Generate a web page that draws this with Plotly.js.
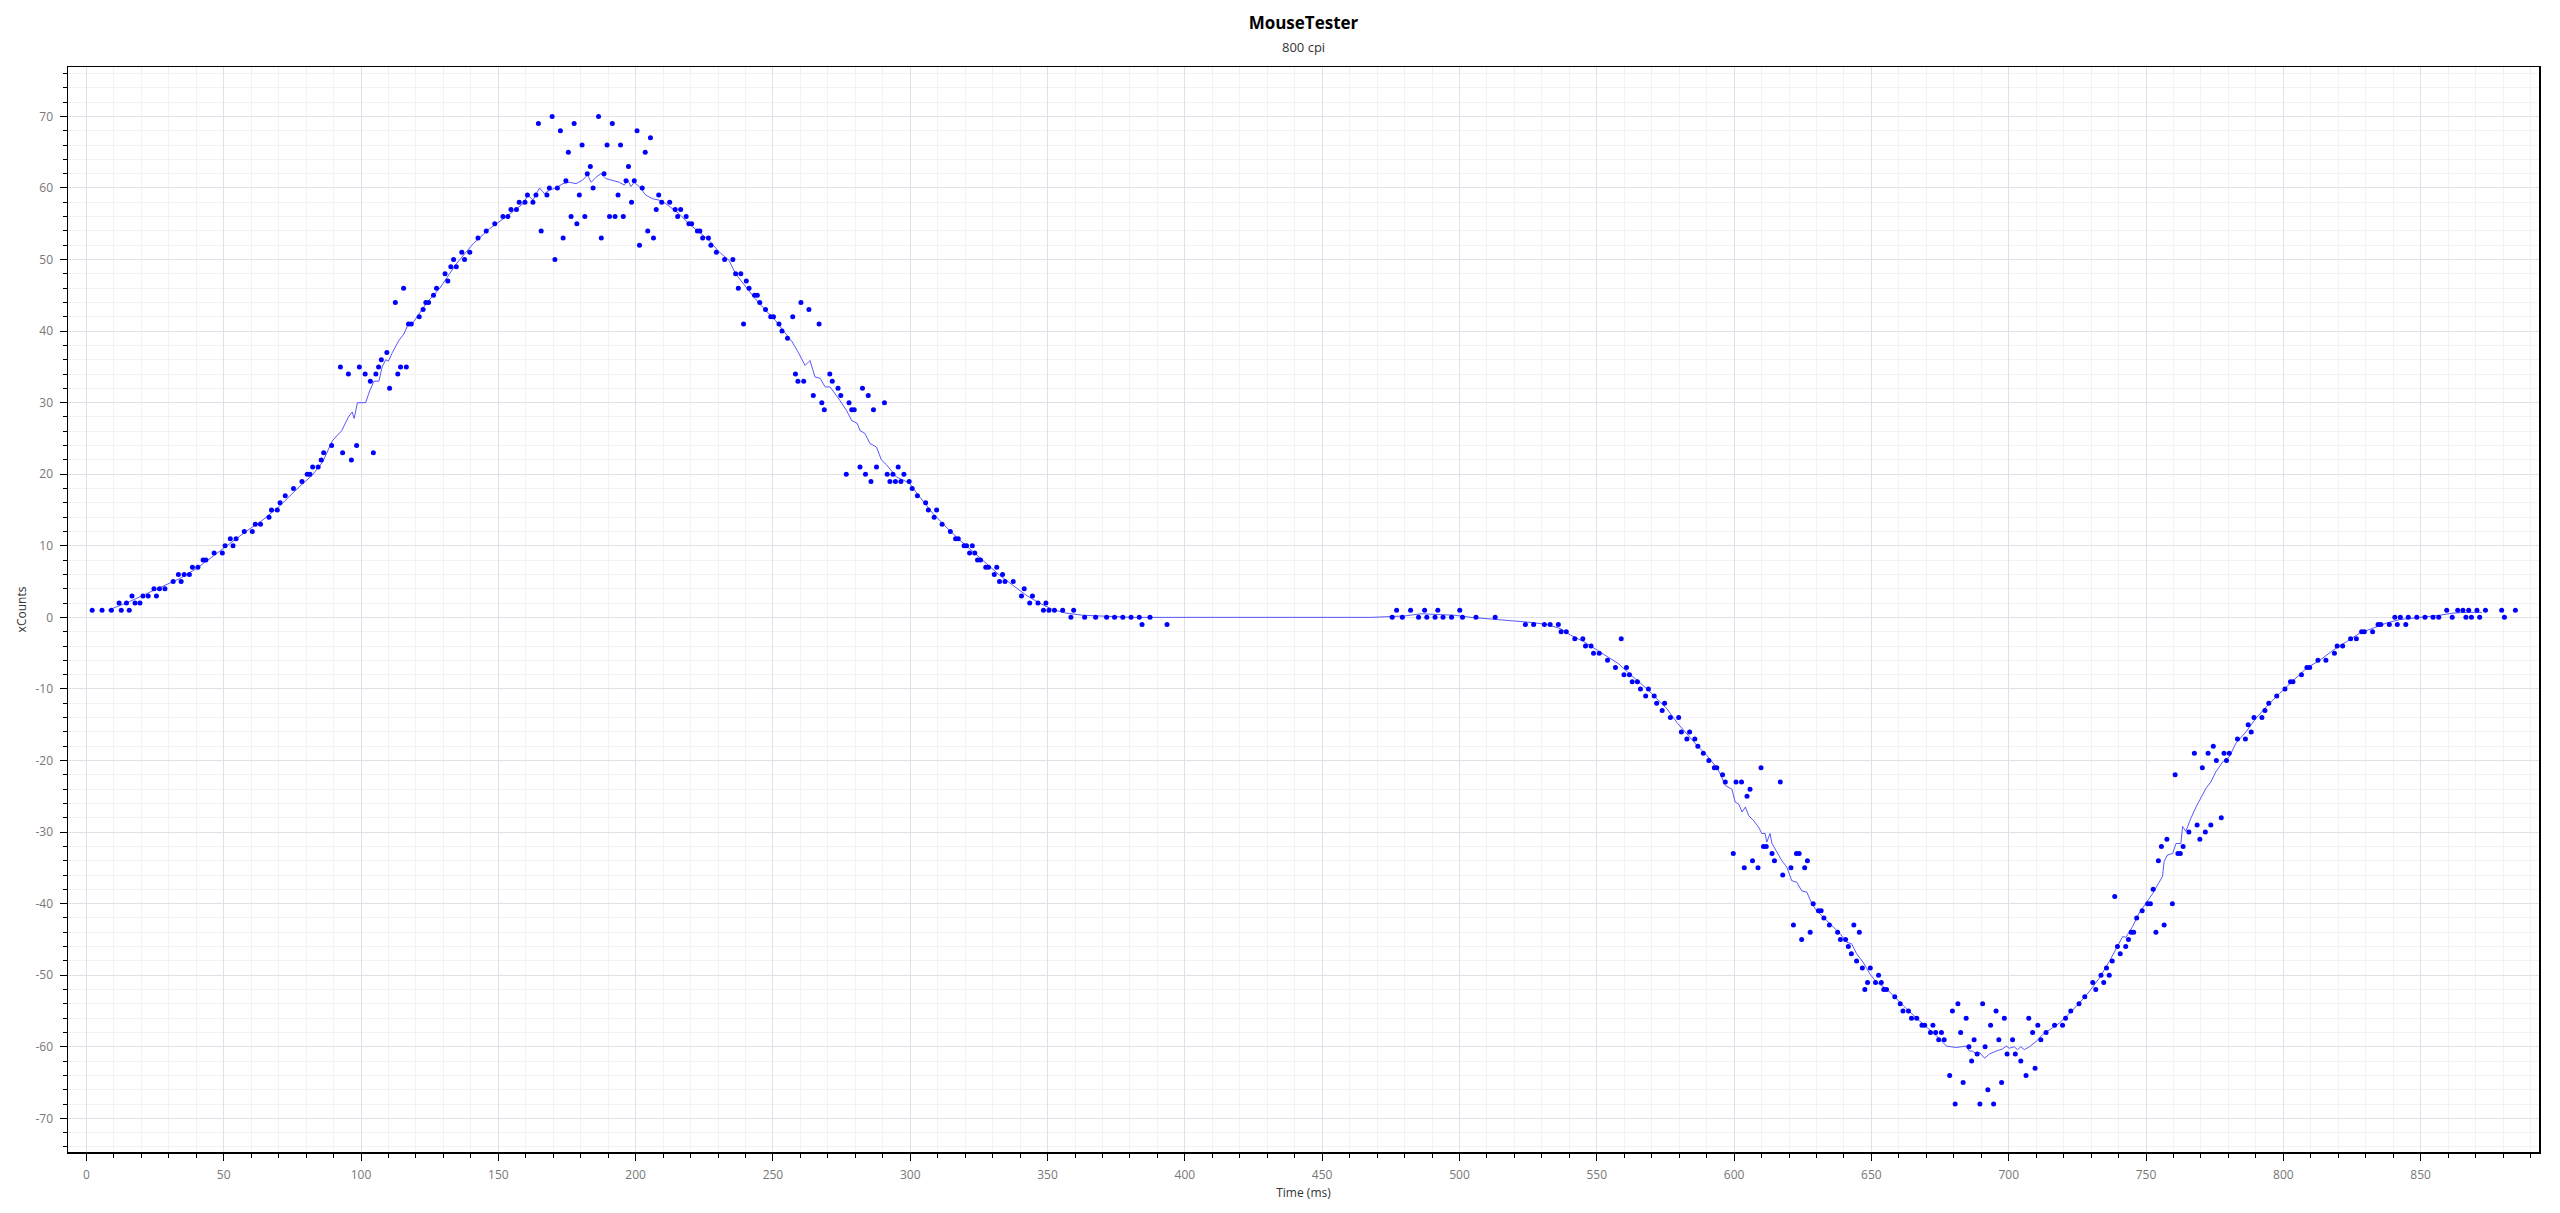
<!DOCTYPE html>
<html>
<head>
<meta charset="utf-8">
<script src="https://cdn.plot.ly/plotly-3.0.1.min.js"></script>
<style>
  html, body { margin: 0; padding: 0; background: #ffffff; }
  #chart { width: 2560px; height: 1213px; }
</style>
</head>
<body>
<div id="chart"></div>
<script>
// ---- Scatter points: time (ms) and xCounts, read segment by segment ----
const timeA = [2.1,5.7,9.1,11.9,12.7,14.6,15.6,16.6,17.7,19.5,20.6,22.5,24.6,25.5,26.6,28.6,31.6,33.5,34.5,35.6,37.5,38.6,40.6,42.5,43.5,46.5,49.5,50.5,52.4,53.4,54.5,57.5,60.4,61.5,63.4,66.5,67.4,69.5,70.5,72.4,75.4,78.5,80.4,81.4,82.4,84.4,85.5,86.4,89.3,92.5,93.3,95.4,96.5,98.4,99.4,101.5,103.4,104.5,105.4,106.4,107.4,109.4,110.4,112.5,113.4,114.4,115.5,116.5,117.3,118.3,121.2,122.6,123.6,124.6,126.4,127.5];
const countsA = [1,1,1,2,1,2,1,3,2,2,3,3,4,3,4,4,5,6,5,6,6,7,7,8,8,9,9,10,11,10,11,12,12,13,13,14,15,15,16,17,18,19,20,20,21,21,22,23,24,35,23,34,22,24,35,34,33,23,34,35,36,37,32,44,34,35,46,35,41,41,42,43,44,44,45,46];

const timeB = [130.6,131.6,132.7,133.7,134.7,136.7,137.7,139.6,142.6,145.6,148.7,151.7,153.5,154.6,156.6,157.6,159.7,160.6,162.6,163.7,164.6,165.6,167.7,168.6,169.6,170.6,171.5,172.6,173.6,174.6,175.5,176.5,177.6,178.6,179.5,180.5,181.5,182.4,183.5,184.5,186.5,187.5,188.5,189.6,190.5,191.5,192.5,193.6,194.5,195.5,196.5,197.4,198.5,199.5,200.5,201.4,202.4,203.5,204.4,205.4,206.5,207.5,208.4,209.5,212.4,214.4,215.3,216.4,218.4,219.4,220.4,222.5,223.4,224.4,226.5,227.4,229.4,232.4,235.4,236.4,237.4,238.3,239.3,240.3,241.3,243.3,244.3,245.2,247.3,249.2,250.2,252.2,253.3,255.3,257.2,258.2,259.1,260.2,261.2,263.1];
const countsB = [48,47,49,50,49,51,50,51,53,54,55,56,56,57,57,58,58,59,58,59,69,54,59,60,70,50,60,68,53,61,65,56,69,55,59,66,56,62,63,60,70,53,62,66,56,69,56,59,66,56,61,63,58,61,68,52,60,65,54,67,53,57,59,58,58,57,56,57,56,55,55,54,54,53,53,52,51,50,50,48,46,48,41,47,46,45,45,44,43,42,42,41,40,39,42,34,33,44,33,43];

const timeC = [264.7,266.8,267.8,268.7,270.7,271.6,273.7,274.7,276.7,277.7,278.7,279.6,281.7,282.6,283.7,284.7,285.7,286.6,287.7,290.6,291.6,292.6,293.7,294.6,295.6,296.6,297.7,299.6,300.7,302.6,305.6,306.6,308.7,309.6,311.6,314.6,316.5,317.5,319.6,320.5,321.6,322.6,323.5,324.5,325.6,327.5,328.5,330.6,331.5,332.5,333.6,334.5,337.5,340.5,341.5,343.5,344.5,346.5,348.5,349.4,350.5,352.5,355.5,358.5,359.5,363.5,367.5,371.5,374.4,377.4,380.4,383.4,384.4,387.3,393.5];
const countsC = [31,41,30,29,34,33,32,31,20,30,29,29,21,32,20,31,19,29,21,30,20,19,20,19,21,19,20,19,18,17,16,15,14,15,13,12,11,11,10,10,9,10,9,8,8,7,7,6,7,5,6,5,5,3,4,2,3,2,1,2,1,1,1,0,1,0,0,0,0,0,0,0,-1,0,-1];

const timeD = [475.5,477.1,479.2,482.2,485.1,487.3,488.1,491.1,492.1,494.0,497.1,500.1,501.1,506.0,513.0,524.0,527.0,530.9,533.0,536.0,537.0,538.9,542.0,544.9,545.9,547.9,548.8,550.9,553.9,556.8,558.9,559.9,560.8,561.9,562.9,564.8,565.9,567.8,568.8,570.9,571.8,573.8,574.7,576.8,579.8,580.8,582.8,583.8,585.7,586.8,588.8,590.8,592.8,593.7,595.8,596.8];
const countsD = [0,1,0,1,0,1,0,0,1,0,0,1,0,0,0,-1,-1,-1,-1,-1,-2,-2,-3,-3,-4,-4,-5,-5,-6,-7,-3,-8,-7,-8,-9,-9,-10,-11,-10,-11,-12,-13,-12,-14,-14,-16,-17,-16,-17,-18,-19,-20,-21,-21,-22,-23];

const timeE = [599.7,600.7,602.7,603.7,604.7,605.8,606.7,608.7,609.8,610.7,611.7,613.8,614.7,616.8,617.7,620.7,621.6,622.7,623.7,624.6,625.7,626.7,627.7,628.8,630.7,631.7,632.7,634.7,637.7,638.7,640.6,641.6,642.7,643.6,644.6,645.6,646.7,647.6,648.6,649.6,651.5,652.6,653.6,654.5,655.5,658.5,660.5,661.5,663.5,664.6,666.5,668.4,669.4,671.5,672.4,673.4,674.5,675.5,676.5,678.5,679.5,680.5,681.5,682.5,683.4,684.5,685.5,686.5,687.4,688.5,689.5,690.5,691.4,692.4,693.4,694.5,695.4,696.4,697.4,698.4,699.4,701.4,702.4,704.4,706.3,707.3];
const countsE = [-33,-23,-23,-35,-25,-24,-34,-35,-21,-32,-32,-33,-34,-23,-36,-35,-43,-33,-33,-45,-35,-34,-44,-40,-41,-41,-42,-43,-44,-45,-45,-46,-47,-43,-48,-44,-49,-52,-51,-49,-51,-50,-51,-52,-52,-53,-54,-55,-55,-56,-56,-57,-57,-58,-57,-58,-59,-58,-59,-64,-55,-68,-54,-58,-65,-56,-60,-62,-59,-61,-68,-54,-60,-66,-57,-68,-55,-59,-65,-56,-61,-59,-61,-62,-64,-56];

const timeF = [708.7,709.6,710.6,711.7,713.6,716.7,719.6,720.7,722.6,725.6,727.7,730.6,731.7,733.6,734.6,735.6,736.6,737.7,738.6,739.6,740.6,742.6,743.6,744.6,745.5,746.6,748.6,750.6,751.6,752.6,753.6,754.5,755.6,756.6,757.6,759.6,760.6,761.6,762.5,763.5,765.6,767.6,768.6,769.6,770.5,771.6,772.6,773.6,774.5,775.6,777.4,778.4,779.3,780.3,783.3,786.2,787.2,788.3,789.3,792.2,793.3,794.7];
const countsF = [-58,-63,-57,-59,-58,-57,-57,-56,-55,-54,-53,-51,-52,-50,-51,-49,-50,-48,-39,-46,-47,-46,-45,-44,-44,-42,-41,-40,-40,-38,-44,-34,-32,-43,-31,-40,-22,-33,-33,-32,-30,-19,-29,-31,-21,-30,-19,-29,-18,-20,-28,-19,-20,-19,-17,-17,-15,-16,-14,-14,-13,-12];

const timeG = [797.6,800.6,802.6,803.5,806.6,808.6,809.6,812.6,815.5,818.6,819.6,821.6,824.5,826.6,828.5,829.5,832.5,834.5,835.5,838.6,840.6,841.5,842.6,844.6,845.5,848.6,851.6,854.5,856.6,859.5,861.5,863.5,865.4,866.5,867.5,868.5,870.5,871.5,873.6,879.5,880.5,884.5];
const countsG = [-11,-10,-9,-9,-8,-7,-7,-6,-6,-5,-4,-4,-3,-3,-2,-2,-2,-1,-1,-1,0,-1,0,-1,0,0,0,0,0,1,0,1,1,0,1,0,1,0,1,1,0,1];

// ---- Smoothed line ----
const lineTime1 = [7.9,15.7,21.8,27.8,33.9,40,46,52,58.1,64.2,70.2,76.3,82.3,86,88.4,89.6,93,95.4,96.8,97.5,98.7,101.7,103,104.7,106.5,107.7,109,110,111.4,113.8,115.6,117,118.6,119.8,124,128.7];
const lineCounts1 = [1,2.2,3.3,4.3,5.4,6.8,8.5,10.3,12,13.6,15.5,17.8,19.9,21.7,23.8,24.7,26.1,28,28.7,27.8,30,30,31.5,33,33,35,36,35.8,37,38.7,39.6,40.8,41,41.7,44,46];
const lineTime2 = [134.7,140.8,146.8,152.9,159,160.8,162.6,165,166.8,168.6,171,173.5,175.9,178.3,180.7,182.5,183.8,185.6,187.4,189.2,191.6,194,195.9,197.1,198.3,199.5,201.3,203.7,206.1,208.5,211,213.4,215.8,219.4,223.1,226.7,230.3,234,236.4,240,243.6,247.3,250.9,254.5,257,259.4];
const lineCounts2 = [49.4,52.2,54.3,56,57.8,59,58.3,60,59.2,59.7,60,60.6,60.8,60.6,61.1,61.8,60.8,61.5,62,61.3,61.1,60.8,60.4,61.1,60.2,60.8,60.2,59,58.5,58.3,57.8,57.1,56.4,55,53.9,52.7,51.1,49.9,48,46.2,44.5,42.9,41.5,39.7,38.5,36.9];
const lineTime3 = [261.7,263.5,265.3,267.2,269,270.8,272.6,274.4,276.8,278.7,280.7,281.7,283.5,285.3,287.7,289.5,291.4,295,297.4,299.8,303.5,308.3,313.1,318,322.8,327.7,332.5,337.3,342.2,347,351.9,356.7,362.7,368.8,380.9,405,440,467.9];
const lineCounts3 = [35.2,35.9,33.6,33.4,32.2,32.2,31.3,30.3,28.9,27.5,27.1,26.1,25.7,24.3,23.8,22,21.3,19.6,19.2,18.7,16.8,14.5,12.6,10.8,9.2,7.5,5.9,4.5,3.1,2,1.1,0.6,0.3,0.2,0,0,0,0];
const lineTime4 = [480,486,492.1,498.1,504.2,510.2,518.7,526,532,536.9,540.5,545.3,550.2,555,558,561.1,564.7,568.3,572,575.6,579.2,582.8,586.5,590.1,593.7];
const lineCounts4 = [0.2,0.5,0.4,0.3,0,-0.2,-0.4,-0.7,-1,-1.6,-2.5,-3.4,-4.6,-5.7,-6.5,-7.6,-8.8,-10,-11.4,-12.8,-14.7,-16.3,-17.9,-19.3,-21];
const lineTime5 = [595,596.8,599.2,600.4,601.7,602.9,604.1,605.3,607.1,608.9,610.1,611.3,611.9,613.1,613.8,615.6,617.4,619.2,621,622.8,624.6,626.5,628.3,630.1,632.5,634.9,638.6,641,642.8,644.6,647,649.4,651.9,655.5,659.1,662.8,667.6,672.4,676.1,677.3,680.9,684.5,685.7,686.9,688.2,689.4,691.2,693,695.4,697.8,699.1];
const lineCounts5 = [-21.9,-23.5,-24,-25.8,-26.1,-27.2,-26.5,-27.7,-28.4,-29.3,-30.2,-30.2,-31.4,-30.2,-31.6,-32.8,-34,-34.9,-36.8,-37,-38.2,-38.4,-40,-41,-41.9,-42.8,-44.2,-45.4,-45.6,-47,-48.2,-49.8,-51,-51.9,-53.3,-54.7,-56.4,-58,-59.4,-59.9,-60.1,-59.9,-60.6,-60.6,-61,-60.8,-61.6,-61,-60.6,-60.3,-59.9];
const lineTime6 = [700.2,702,703.2,704.4,705.7,707.5,709.9,712.3,714.8,718.4,722.2,725.7,729.3,733,736.6,739.1,741.5,742.7,745.1,747.5,750,752.4,754.2,756,756.6,757.8,759.7,760.9,762.7,763.3,764.5,766.3,768.2,770,771.8,773.6,775.4,777.9,780.3,782.7,786.4,790,793.6];
const lineCounts6 = [-60.2,-60,-60.4,-60,-60.4,-60,-59.3,-58.3,-57.6,-56.7,-55.3,-53.9,-52.3,-50.4,-48.1,-46.2,-44.6,-44.7,-43.2,-41.3,-39.9,-38.6,-37.4,-36.2,-34.1,-33.2,-33,-31.6,-31.6,-29.2,-29.9,-28.1,-26.5,-25.1,-23.9,-23,-21.6,-20.2,-19.5,-17.6,-16,-14.1,-12.5];
const lineTime7 = [795,798.7,803.5,808.4,813.3,818.1,823,827.8,832.7,837.5,842.4,847.2,852.1,857,861.8,866.6,872.3];
const lineCounts7 = [-12,-10.6,-8.8,-7.1,-6,-4.6,-3.4,-2.2,-1.5,-0.8,-0.3,-0.1,0,0.3,0.6,0.7,0.7];

// ---- Tick labels ----
const yTickVals = [-70,-60,-50,-40,-30,-20,-10,0,10,20,30,40,50,60,70];
const yTickText = ['-70','-60','-50','-40','-30','-20','-10','0','10','20','30','40','50','60','70'];

const chartTitle = 'MouseTester';
const chartSubtitle = '800 cpi';
const xTitle = 'Time (ms)';
const yTitle = 'xCounts';

// ---- Build traces ----
const pointTime = [].concat(timeA, timeB, timeC, timeD, timeE, timeF, timeG);
const pointCounts = [].concat(countsA, countsB, countsC, countsD, countsE, countsF, countsG);
const lineTime = [].concat(lineTime1, lineTime2, lineTime3, lineTime4, lineTime5, lineTime6, lineTime7);
const lineCounts = [].concat(lineCounts1, lineCounts2, lineCounts3, lineCounts4, lineCounts5, lineCounts6, lineCounts7);

const FONT = '"Open Sans", "Noto Sans", "DejaVu Sans", sans-serif';
const MAJOR_GRID = 'rgb(224,224,233)';
const MINOR_GRID = 'rgb(241,241,246)';

const traces = [
  {
    x: lineTime, y: lineCounts, type: 'scatter', mode: 'lines',
    line: { color: 'rgba(60,60,255,0.85)', width: 1 },
    hoverinfo: 'skip', showlegend: false
  },
  {
    x: pointTime, y: pointCounts, type: 'scatter', mode: 'markers',
    marker: { color: '#0000ff', size: 5, line: { width: 0 } },
    showlegend: false
  }
];

const layout = {
  width: 2560, height: 1213,
  margin: { l: 68, r: 21, t: 67, b: 61, pad: 0 },
  paper_bgcolor: '#ffffff', plot_bgcolor: '#ffffff',
  font: { family: FONT, size: 12, color: '#666' },
  showlegend: false,
  title: {
    text: '<b>' + chartTitle + '</b>',
    x: 0.5, xref: 'paper', xanchor: 'center',
    y: 1 - 23 / 1213, yref: 'container', yanchor: 'middle',
    font: { family: FONT, size: 17, color: '#000' }
  },
  annotations: [{
    text: chartSubtitle, xref: 'paper', yref: 'paper',
    x: 0.5, y: 1 + 20 / 1085, xanchor: 'center', yanchor: 'middle',
    showarrow: false, font: { family: FONT, size: 13, color: '#333' }
  }],
  xaxis: {
    range: [-6.7, 893.1],
    tickmode: 'linear', tick0: 0, dtick: 50,
    ticks: 'outside', ticklen: 7, tickwidth: 1, tickcolor: '#000',
    showline: true, linecolor: '#000', linewidth: 1.5, mirror: true,
    showgrid: true, gridcolor: MAJOR_GRID, gridwidth: 1,
    zeroline: false,
    tickfont: { family: FONT, size: 12, color: '#777' },
    ticklabelstandoff: 4,
    minor: { tickmode: 'linear', tick0: 0, dtick: 10, ticks: 'outside', ticklen: 4, tickcolor: '#000', tickwidth: 1, showgrid: true, gridcolor: MINOR_GRID, gridwidth: 1 },
    title: { text: xTitle, font: { family: FONT, size: 12, color: '#333' }, standoff: 6 },
    automargin: false
  },
  yaxis: {
    range: [-74.7, 76.9],
    tickmode: 'array', tickvals: yTickVals, ticktext: yTickText,
    ticks: 'outside', ticklen: 7, tickwidth: 1, tickcolor: '#000',
    showline: true, linecolor: '#000', linewidth: 1.5, mirror: true,
    showgrid: true, gridcolor: MAJOR_GRID, gridwidth: 1,
    zeroline: false,
    tickfont: { family: FONT, size: 12, color: '#777' },
    ticklabelstandoff: 4,
    minor: { tickmode: 'linear', tick0: 0, dtick: 2, ticks: 'outside', ticklen: 4, tickcolor: '#000', tickwidth: 1, showgrid: true, gridcolor: MINOR_GRID, gridwidth: 1 },
    title: { text: yTitle, font: { family: FONT, size: 12, color: '#333' }, standoff: 6 },
    automargin: false
  },
  hovermode: false
};

Plotly.newPlot('chart', traces, layout, { displayModeBar: false, responsive: false, staticPlot: true });
</script>
</body>
</html>
